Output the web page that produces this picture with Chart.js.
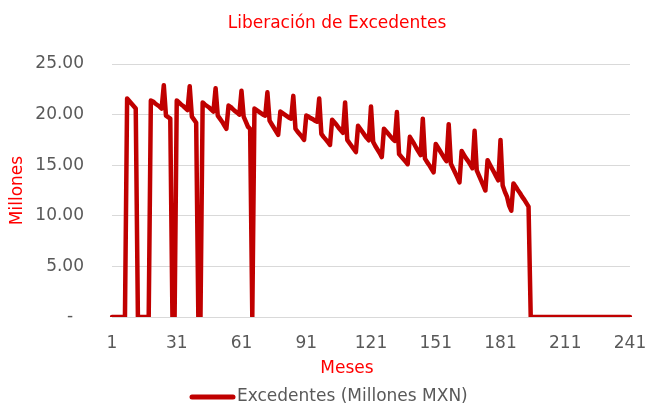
<!DOCTYPE html>
<html><head><meta charset="utf-8">
<script src="https://cdn.jsdelivr.net/npm/chart.js@4/dist/chart.umd.min.js"></script>
<style>html,body{margin:0;padding:0;background:#fff}</style>
</head><body>
<canvas id="c" width="650" height="406"></canvas>
<script>
const chartTitle = 'Liberación de Excedentes';
const xAxisTitle = 'Meses';
const yAxisTitle = 'Millones';
const seriesName = 'Excedentes (Millones MXN)';
const xTickLabels = ['1','31','61','91','121','151','181','211','241'];
const yTickLabels = ['-  ','5.00','10.00','15.00','20.00','25.00'];
const months = [];
for (let m = 1; m <= 241; m++) months.push(String(m));
const excedentes = [
  0,0,0,0,0,0,0,21.6,21.35,21.1,20.85,20.6,
  0,0,0,0,0,0,21.4,21.3,21.1,20.95,20.8,20.6,
  22.9,19.9,19.75,19.6,0,0,21.4,21.2,21.0,20.85,20.65,20.45,
  22.8,19.8,19.5,19.2,0,0,21.2,21.0,20.85,20.7,20.5,20.3,
  22.6,19.9,19.6,19.3,18.95,18.6,20.9,20.75,20.55,20.35,20.2,20.0,
  22.35,19.8,19.3,18.8,18.6,0,20.6,20.45,20.3,20.15,20.0,19.9,
  22.2,19.4,19.05,18.7,18.35,18.0,20.3,20.15,20.0,19.85,19.7,19.6,
  21.85,18.6,18.3,18.05,17.8,17.5,19.9,19.8,19.65,19.55,19.4,19.3,
  21.6,18.1,17.8,17.55,17.3,17.0,19.5,19.25,19.0,18.7,18.45,18.2,
  21.2,17.5,17.2,16.9,16.6,16.3,18.9,18.6,18.3,18.0,17.7,17.45,
  20.8,17.3,16.9,16.55,16.2,15.8,18.6,18.35,18.1,17.85,17.6,17.4,
  20.25,16.1,15.85,15.6,15.35,15.1,17.8,17.45,17.1,16.7,16.35,16.0,
  19.6,15.65,15.3,15.0,14.65,14.3,17.1,16.75,16.4,16.05,15.7,15.4,
  19.05,15.15,14.7,14.25,13.8,13.3,16.4,16.05,15.7,15.4,15.05,14.7,
  18.4,14.5,14.0,13.5,13.0,12.5,15.5,15.1,14.7,14.3,13.9,13.5,
  17.5,13.0,12.4,11.9,11.0,10.5,13.2,12.9,12.55,12.25,11.9,11.6,
  11.25,10.9,0,0,0,0,0,0,0,0,0,0,
  0,0,0,0,0,0,0,0,0,0,0,0,
  0,0,0,0,0,0,0,0,0,0,0,0,
  0,0,0,0,0,0,0,0,0,0,0,0,
  0
];

const FONT = 'DejaVu Sans';
const RED = '#FF0000';
const LINE = '#C00000';
const GREY = '#595959';

const extraText = {
  id: 'extraText',
  afterDraw(chart) {
    const ctx = chart.ctx;
    ctx.save();
    ctx.font = '17px "' + FONT + '"';
    ctx.textBaseline = 'middle';
    // chart title and x-axis title
    ctx.fillStyle = RED;
    ctx.textAlign = 'center';
    ctx.fillText(chartTitle, 337, 24);
    ctx.fillText(xAxisTitle, 347, 369);
    // legend entry
    const ds = chart.data.datasets[0];
    ctx.strokeStyle = ds.borderColor;
    ctx.lineWidth = 5;
    ctx.lineCap = 'round';
    ctx.beginPath();
    ctx.moveTo(192, 397);
    ctx.lineTo(233, 397);
    ctx.stroke();
    ctx.fillStyle = GREY;
    ctx.textAlign = 'left';
    ctx.fillText(ds.label, 237, 397);
    ctx.restore();
  }
};

new Chart(document.getElementById('c'), {
  type: 'line',
  data: {
    labels: months,
    datasets: [{
      label: seriesName,
      data: excedentes,
      borderColor: LINE,
      backgroundColor: LINE,
      borderWidth: 4.5,
      borderJoinStyle: 'round',
      borderCapStyle: 'round',
      pointRadius: 0,
      tension: 0,
      fill: false
    }]
  },
  options: {
    responsive: false,
    animation: false,
    devicePixelRatio: 1,
    layout: { padding: { left: 0, right: 20, top: 64, bottom: 0 } },
    plugins: {
      title: { display: false },
      tooltip: { enabled: false },
      legend: { display: false }
    },
    scales: {
      x: {
        type: 'category',
        offset: false,
        grid: {
          display: true,
          drawOnChartArea: false,
          drawTicks: true,
          tickLength: 16,
          color: 'rgba(0,0,0,0)'
        },
        border: { display: false },
        ticks: {
          autoSkip: false,
          maxRotation: 0,
          minRotation: 0,
          padding: 0,
          color: GREY,
          font: { family: FONT, size: 17 },
          callback: (v, i) => xTickLabels.includes(months[i]) ? months[i] : null
        },
        afterFit: (s) => { s.height = 89; }
      },
      y: {
        min: 0,
        max: 25,
        ticks: {
          stepSize: 5,
          padding: 28,
          color: GREY,
          font: { family: FONT, size: 17 },
          callback: (v) => yTickLabels[Math.round(v / 5)]
        },
        grid: { color: '#D9D9D9', lineWidth: 1, drawTicks: false },
        border: { display: false },
        title: {
          display: true,
          text: yAxisTitle,
          color: RED,
          font: { family: FONT, size: 17 },
          padding: { top: 7, bottom: 4 }
        },
        afterFit: (s) => { s.width = 112; }
      }
    }
  },
  plugins: [extraText]
});
</script>
</body></html>
